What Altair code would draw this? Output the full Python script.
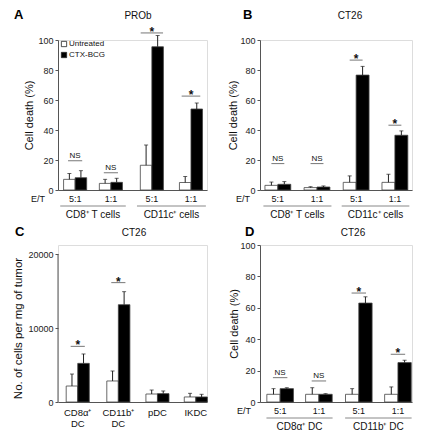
import altair as alt
import pandas as pd

FONT = "Liberation Sans"
groups = ["Untreated", "CTX-BCG"]

# ---------------- data ----------------
# Panel A (PROb)
A_ratios = ["5:1", "1:1", "5:1", "1:1"]
A_cells = ["CD8⁺ T cells", "CD11c⁺ cells"]
A_untreated = [7.1, 4.4, 16.5, 5.0]
A_untreated_sd = [3.9, 2.7, 13.5, 4.0]
A_ctx = [8.2, 5.1, 95.5, 54.0]
A_ctx_sd = [4.7, 2.7, 7.5, 4.0]
A_sig = ["NS", "NS", "*", "*"]
A_sig_y = [19.5, 11.5, 104.7, 62.6]

# Panel B (CT26)
B_ratios = ["5:1", "1:1", "5:1", "1:1"]
B_cells = ["CD8⁺ T cells", "CD11c⁺ cells"]
B_untreated = [3.1, 1.6, 5.1, 5.1]
B_untreated_sd = [2.2, 0.6, 4.3, 5.4]
B_ctx = [3.8, 2.0, 76.6, 36.5]
B_ctx_sd = [1.8, 0.7, 5.8, 2.9]
B_sig = ["NS", "NS", "*", "*"]
B_sig_y = [17.6, 17.6, 86.6, 43.2]

# Panel C (CT26, cell numbers)
C_cats = ["CD8α⁺\nDC", "CD11b⁺\nDC", "pDC", "IKDC"]
C_untreated = [2160, 2840, 1080, 680]
C_untreated_sd = [1620, 1350, 540, 490]
C_ctx = [5220, 13150, 1130, 680]
C_ctx_sd = [1270, 1760, 360, 360]
C_sig = ["*", "*", "", ""]
C_sig_y = [7520, 16130, 0, 0]

# Panel D (CT26, DC killing)
D_ratios = ["5:1", "1:1", "5:1", "1:1"]
D_cells = ["CD8α⁺ DC", "CD11b⁺ DC"]
D_untreated = [4.9, 4.9, 4.9, 4.9]
D_untreated_sd = [3.6, 4.2, 3.6, 4.7]
D_ctx = [8.5, 4.9, 63.0, 25.1]
D_ctx_sd = [0.6, 0.4, 4.0, 1.5]
D_sig = ["NS", "NS", "*", "*"]
D_sig_y = [15.5, 13.4, 69.4, 30.4]

AXIS_COLOR = "#555"
TXT = "#111"


def make_panel(p):
    w, h = p["width"], p["height"]
    slots, half = p["slots"], p["half"]
    rows = []
    for i in range(4):
        c = slots[i]
        for g, vals, sds, a, b in [
            ("Untreated", p["u"], p["usd"], c - half, c),
            ("CTX-BCG", p["c"], p["csd"], c, c + half),
        ]:
            rows.append(dict(group=g, x0=a, x1=b, xc=(a + b) / 2,
                             base=0, value=vals[i], top=vals[i] + sds[i]))
    bars = pd.DataFrame(rows)

    xs = alt.Scale(domain=[0, 4], nice=False, zero=False)
    ys = alt.Scale(domain=p["ydomain"], nice=False, zero=True)
    yaxis = alt.Axis(
        values=p["yticks"], format="d", tickSize=3, labelPadding=2,
        labelFontSize=9, labelColor="#222", domainColor=AXIS_COLOR,
        tickColor=AXIS_COLOR, grid=False, domain=p["ydomainline"],
        labelOverlap=False, labelFlush=False,
        title=p["ytitle"], titleFontSize=p["ytfs"], titleFontWeight="normal",
        titleColor=TXT, titleX=p["tx"], titleY=p["ty"],
        titleBaseline="middle", titleAlign="center",
    )
    xaxis = alt.Axis(domain=True, ticks=False, labels=False, title=None,
                     grid=False, domainColor=AXIS_COLOR)
    if p["legend"]:
        leg = alt.Legend(orient="none", legendX=2, legendY=0, title=None,
                         labelFontSize=8, labelFont=FONT, symbolType="square",
                         symbolSize=28, symbolStrokeColor="#222",
                         symbolStrokeWidth=0.8, labelOffset=1, rowPadding=1,
                         padding=0, labelColor=TXT)
    else:
        leg = None

    def X(f):
        return alt.X(f, scale=xs, axis=xaxis)

    def Y(f):
        return alt.Y(f, scale=ys, axis=yaxis)

    bar = alt.Chart(bars).mark_bar(stroke="#444", strokeWidth=0.8).encode(
        x=X("x0:Q"), x2="x1:Q",
        y=Y("value:Q"), y2="base:Q",
        fill=alt.Fill("group:N", scale=alt.Scale(domain=groups, range=["white", "black"]),
                      legend=leg, sort=groups),
    )
    err = alt.Chart(bars).mark_rule(color="#222", strokeWidth=1).encode(
        x=X("xc:Q"), y=Y("value:Q"), y2="top:Q")
    cap = alt.Chart(bars).mark_tick(orient="horizontal", size=4, thickness=1,
                                    color="#222").encode(x=X("xc:Q"), y=Y("top:Q"))
    layers = [bar, err, cap]

    sig_rows = [dict(x0=slots[i] - p["sh"][i], x1=slots[i] + p["sh"][i], xm=slots[i],
                     y=p["sig_y"][i], label=p["sig"][i])
                for i in range(4) if p["sig"][i]]
    sig = pd.DataFrame(sig_rows)
    layers.append(alt.Chart(sig).mark_rule(color="#777", strokeWidth=1).encode(
        x=X("x0:Q"), x2="x1:Q", y=Y("y:Q")))
    ns = sig[sig.label == "NS"].reset_index(drop=True)
    st = sig[sig.label == "*"].reset_index(drop=True)
    if len(ns):
        layers.append(alt.Chart(ns).mark_text(fontSize=8, font=FONT, baseline="alphabetic",
                                              dy=-3, color=TXT).encode(
            x=X("xm:Q"), y=Y("y:Q"), text="label:N"))
    if len(st):
        layers.append(alt.Chart(st).mark_text(fontSize=12, font=FONT, fontWeight="bold",
                                              baseline="alphabetic", dy=3, color=TXT).encode(
            x=X("xm:Q"), y=Y("y:Q"), text="label:N"))

    if p.get("ratios"):
        rdf = pd.DataFrame(dict(x=slots, label=p["ratios"]))
        layers.append(alt.Chart(rdf).mark_text(fontSize=9, font=FONT, baseline="alphabetic",
                                               fill=TXT).encode(
            x=X("x:Q"), y=alt.value(h + 12), text="label:N"))
        etdf = pd.DataFrame(dict(label=["E/T"]))
        layers.append(alt.Chart(etdf).mark_text(fontSize=9, font=FONT, baseline="alphabetic",
                                                fill=TXT).encode(
            x=alt.value(p["etx"]), y=alt.value(h + 12), text="label:N"))
        gl = p["gl"]
        gdf = pd.DataFrame(dict(
            g0=[slots[0] - gl, slots[2] - gl], g1=[slots[1] + gl, slots[3] + gl],
            gm=[(slots[0] + slots[1]) / 2, (slots[2] + slots[3]) / 2],
            label=p["cells"]))
        layers.append(alt.Chart(gdf).mark_rule(color="#888", strokeWidth=1).encode(
            x=X("g0:Q"), x2="g1:Q", y=alt.value(h + 16)))
        layers.append(alt.Chart(gdf).mark_text(fontSize=10, font=FONT, baseline="alphabetic",
                                               fill=TXT).encode(
            x=X("gm:Q"), y=alt.value(h + 28), text="label:N"))
    if p.get("cats"):
        cdf = pd.DataFrame(dict(x=slots, label=p["cats"]))
        layers.append(alt.Chart(cdf).mark_text(fontSize=9.5, font=FONT, baseline="top",
                                               lineBreak="\n", lineHeight=11,
                                               fill=TXT).encode(
            x=X("x:Q"), y=alt.value(h + 6), text="label:N"))
    if p.get("yline"):
        ldf = pd.DataFrame(dict(a=[0], b=[p["yline"]]))
        layers.append(alt.Chart(ldf).mark_rule(color=AXIS_COLOR, strokeWidth=1).encode(
            x=alt.value(0), y=Y("a:Q"), y2="b:Q"))

    tdf = pd.DataFrame(dict(letter=[p["letter"]], title=[p["title"]]))
    layers.append(alt.Chart(tdf).mark_text(fontSize=13, font=FONT, fontWeight="bold",
                                           align="left", baseline="alphabetic",
                                           fill="#000").encode(
        x=alt.value(p["lx"]), y=alt.value(p["ly"]), text="letter:N"))
    layers.append(alt.Chart(tdf).mark_text(fontSize=10, font=FONT, align="center",
                                           baseline="alphabetic", fill=TXT).encode(
        x=alt.value(p["ttx"]), y=alt.value(p["ly"]), text="title:N"))

    return alt.layer(*layers).properties(width=w, height=h)


W1, W2 = 149, 152
H1, H2 = 150, 157
C_max = 20000 * H2 / 148.0

A = make_panel(dict(
    width=W1, height=H1, slots=[0.46, 1.42, 2.52, 3.57], half=0.31,
    u=A_untreated, usd=A_untreated_sd, c=A_ctx, csd=A_ctx_sd,
    sig=A_sig, sig_y=A_sig_y, sh=[0.19, 0.19, 0.3, 0.25],
    ydomain=[0, 100], yticks=[0, 20, 40, 60, 80, 100], ydomainline=True,
    ytitle="Cell death (%)", ytfs=11, tx=-29, ty=H1 / 2,
    legend=True, ratios=A_ratios, cells=A_cells, etx=-20, gl=0.4,
    letter="A", title="PROb", lx=-44, ly=-21, ttx=80,
))
B = make_panel(dict(
    width=W2, height=H1, slots=[0.47, 1.5, 2.53, 3.55], half=0.34,
    u=B_untreated, usd=B_untreated_sd, c=B_ctx, csd=B_ctx_sd,
    sig=B_sig, sig_y=B_sig_y, sh=[0.17, 0.17, 0.17, 0.17],
    ydomain=[0, 100], yticks=[0, 20, 40, 60, 80, 100], ydomainline=True,
    ytitle="Cell death (%)", ytfs=11, tx=-27, ty=H1 / 2,
    legend=False, ratios=B_ratios, cells=B_cells, etx=-17, gl=0.38,
    letter="B", title="CT26", lx=-17, ly=-21, ttx=90,
))
C = make_panel(dict(
    width=W1, height=H2, slots=[0.53, 1.62, 2.67, 3.7], half=0.31,
    u=C_untreated, usd=C_untreated_sd, c=C_ctx, csd=C_ctx_sd,
    sig=C_sig, sig_y=C_sig_y, sh=[0.19, 0.19, 0.19, 0.19],
    ydomain=[0, C_max], yticks=[0, 10000, 20000], ydomainline=False, yline=20000,
    ytitle="No. of cells per mg of tumor", ytfs=11.5, tx=-40, ty=(H2 + 9) / 2,
    legend=False, cats=C_cats,
    letter="C", title="CT26", lx=-43, ly=-9, ttx=76,
))
D = make_panel(dict(
    width=W2, height=H2, slots=[0.53, 1.55, 2.6, 3.63], half=0.35,
    u=D_untreated, usd=D_untreated_sd, c=D_ctx, csd=D_ctx_sd,
    sig=D_sig, sig_y=D_sig_y, sh=[0.19, 0.19, 0.19, 0.19],
    ydomain=[0, 100], yticks=[0, 20, 40, 60, 80, 100], ydomainline=True,
    ytitle="Cell death (%)", ytfs=11, tx=-26, ty=H2 / 2,
    legend=False, ratios=D_ratios, cells=D_cells, etx=-16, gl=0.36,
    letter="D", title="CT26", lx=-15, ly=-9, ttx=93,
))

chart = alt.concat(
    A, B, C, D, columns=2, bounds="flush",
    spacing={"row": 55, "column": 53},
).resolve_scale(fill="independent").resolve_legend(fill="independent").properties(
    padding={"left": 3, "top": 0, "right": 2, "bottom": 2},
).configure_view(stroke=None).configure(font=FONT)

chart.save("out.html", embed_options={"renderer": "svg", "actions": False})
